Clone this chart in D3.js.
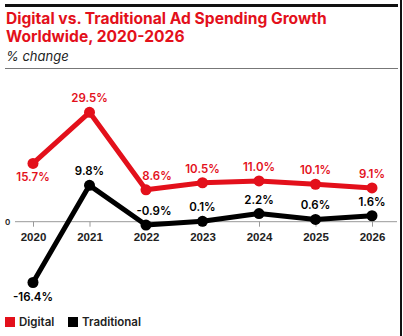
<!DOCTYPE html>
<html lang="en">
<head>
    <meta charset="UTF-8">
    <title>Digital vs. Traditional Ad Spending Growth</title>
    <script src="https://d3js.org/d3.v7.min.js"></script>
    <style>
        body {
            margin: 0;
            background: #fff;
            font-family: 'Inter', 'Lato', sans-serif;
        }
        svg { display: block; }
        .title { fill: #e3101b; font-size: 15.6px; font-weight: 700; }
        .subtitle { fill: #222; font-size: 13px; font-style: italic; }
        .year { font-size: 11.5px; font-weight: 600; fill: #222; }
        .val { font-size: 11.5px; font-weight: 600; }
        .legend-text { font-size: 11.5px; font-weight: 600; fill: #222; }
    </style>
</head>
<body>
<div id="chart"></div>
<script>
    // data
    const years = ["2020", "2021", "2022", "2023", "2024", "2025", "2026"];
    const digital = [15.7, 29.5, 8.6, 10.5, 11.0, 10.1, 9.1];
    const traditional = [-16.4, 9.8, -0.9, 0.1, 2.2, 0.6, 1.6];
    const seriesNames = ["Digital", "Traditional"];
    const seriesColors = ["#e3101b", "#000000"];

    const width = 403, height = 336;

    const svg = d3.select("#chart").append("svg")
        .attr("width", width)
        .attr("height", height);

    // frame lines
    svg.append("rect").attr("x", 5).attr("y", 4).attr("width", 393).attr("height", 3).attr("fill", "#111");
    svg.append("rect").attr("x", 5).attr("y", 68).attr("width", 393).attr("height", 1).attr("fill", "#777");
    svg.append("rect").attr("x", 400).attr("y", 0).attr("width", 2).attr("height", height).attr("fill", "#111");

    // title
    svg.append("text").attr("class", "title").attr("x", 6).attr("y", 24)
        .text("Digital vs. Traditional Ad Spending Growth");
    svg.append("text").attr("class", "title").attr("x", 6).attr("y", 42)
        .text("Worldwide, 2020-2026");
    svg.append("text").attr("class", "subtitle").attr("x", 6).attr("y", 61)
        .text("% change");

    // scales
    const x = d3.scalePoint().domain(years).range([33, 372]);
    const y = d3.scaleLinear().domain([-16.4, 29.5]).range([282.5, 112.3]);

    // zero axis
    svg.append("line")
        .attr("x1", 15).attr("x2", 397)
        .attr("y1", y(0)).attr("y2", y(0))
        .attr("stroke", "#999").attr("stroke-width", 1);
    svg.append("text").attr("x", 5).attr("y", y(0) + 3)
        .attr("font-size", 8).attr("font-weight", 600).attr("fill", "#222").text("0");

    const xAxis = svg.append("g")
        .attr("transform", `translate(0,${y(0)})`)
        .call(d3.axisBottom(x).tickSize(5).tickPadding(6));
    xAxis.select(".domain").remove();
    xAxis.selectAll("line").attr("stroke", "#999");
    xAxis.selectAll("text").attr("class", "year").attr("font-family", null).attr("font-size", null).attr("fill", null);

    const line = d3.line().x((d, i) => x(years[i])).y(d => y(d));

    // label placement: below for first points, above otherwise; 2022 nudged right of the line
    const below = [[true, false, false, false, false, false, false],
                   [true, false, false, false, false, false, false]];
    const nudge = [[0, 0, 11, 0, 0, 0, 0],
                   [0, 0, 8, 0, 0, 0, 0]];

    const all = [digital, traditional];
    const lines = svg.append("g");
    const labels = svg.append("g");

    all.forEach((vals, s) => {
        const col = seriesColors[s];
        lines.append("path")
            .datum(vals)
            .attr("d", line)
            .attr("fill", "none")
            .attr("stroke", col)
            .attr("stroke-width", 5)
            .attr("stroke-linejoin", "round");

        lines.selectAll(".dot" + s)
            .data(vals)
            .enter()
            .append("circle")
            .attr("cx", (d, i) => x(years[i]))
            .attr("cy", d => y(d))
            .attr("r", 5.5)
            .attr("fill", col);

        labels.selectAll(".lab" + s)
            .data(vals)
            .enter()
            .append("text")
            .attr("class", "val")
            .attr("x", (d, i) => x(years[i]) + nudge[s][i])
            .attr("y", (d, i) => below[s][i] ? y(d) + 18 : y(d) - 10)
            .attr("text-anchor", "middle")
            .attr("fill", col)
            .text(d => d.toFixed(1) + "%");
    });

    // legend
    const legend = svg.append("g").attr("transform", "translate(5,317)");
    let lx = 0;
    seriesNames.forEach((name, i) => {
        legend.append("rect").attr("x", lx).attr("y", 0).attr("width", 10).attr("height", 10)
            .attr("fill", seriesColors[i]);
        legend.append("text").attr("class", "legend-text")
            .attr("x", lx + 14).attr("y", 9).text(name);
        lx += 63;
    });
</script>
</body>
</html>
